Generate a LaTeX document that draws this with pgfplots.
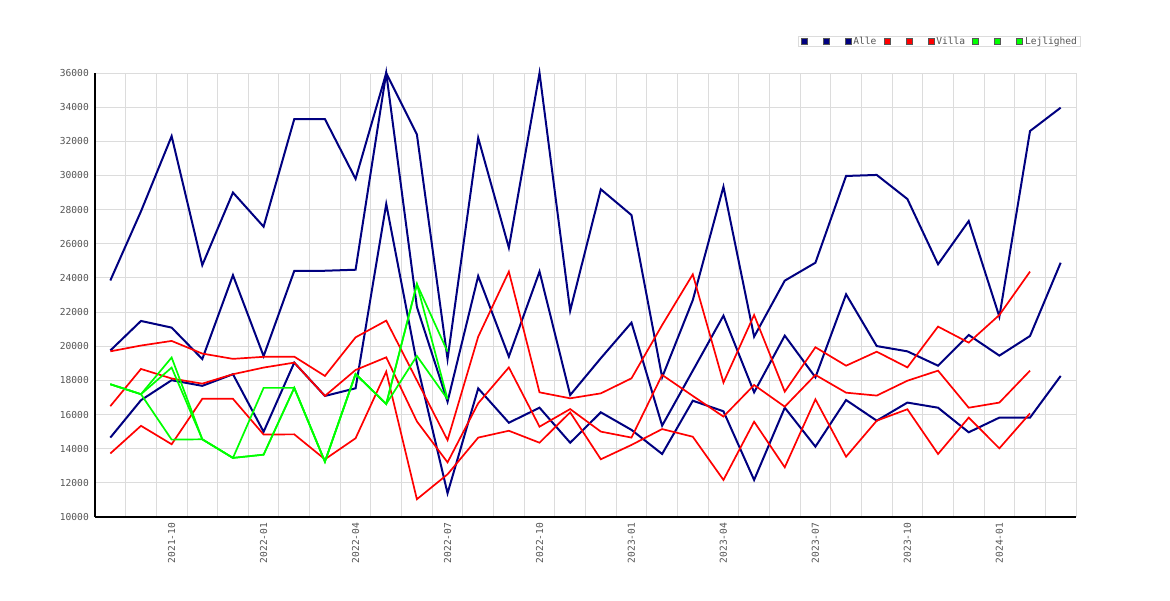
\documentclass[border=0pt]{standalone}
\usepackage{fontspec}
\setmonofont{DejaVu Sans Mono}
\usepackage{pgfplots}
\usepackage{pgfplotstable}
\pgfplotsset{compat=1.18}
\definecolor{navy}{RGB}{0,0,128}
\definecolor{cred}{RGB}{255,0,0}
\definecolor{cgreen}{RGB}{0,255,0}
\definecolor{gridc}{RGB}{220,220,220}
\definecolor{txt}{RGB}{85,85,85}
\pgfplotstableread{
i  B1    B2    B3
0  23850 19750 14650
1  27900 21480 16840
2  32300 21090 18010
3  24750 19250 17680
4  29000 24160 18360
5  27000 19420 14990
6  33300 24410 19040
7  33300 24420 17090
8  29800 24480 17535
9  36000 36000 28330
10 32400 22300 19000
11 19250 16750 11390
12 32200 24110 17530
13 25770 19390 15520
14 36000 24370 16400
15 22080 17140 14350
16 29190 19300 16130
17 27680 21380 15100
18 18180 15350 13690
19 22700 18570 16810
20 29340 21790 16190
21 20560 17300 12170
22 23840 20620 16400
23 24890 18180 14120
24 29970 23040 16850
25 30030 20010 15640
26 28620 19700 16700
27 24800 18860 16400
28 27330 20660 14960
29 21730 19450 15820
30 32600 20600 15820
31 33970 24890 18260
}\alle
\pgfplotstableread{
i  R1    R2    R3
0  19700 16490 13720
1  20040 18670 15340
2  20310 18110 14260
3  19570 17810 16920
4  19260 18360 16920
5  19380 18750 14830
6  19390 19040 14840
7  18260 17090 13380
8  20520 18610 14610
9  21500 19350 18510
10 18000 15600 11040
11 14500 13200 12500
12 20560 16660 14650
13 24370 18760 15050
14 17300 15290 14350
15 16950 16320 16130
16 17240 15000 13380
17 18120 14650 14220
18 21240 18320 15150
19 24210 17090 14700
20 17870 15880 12170
21 21830 17730 15580
22 17340 16460 12910
23 19940 18320 16890
24 18860 17280 13530
25 19680 17110 15640
26 18760 17980 16310
27 21150 18570 13690
28 20210 16400 15820
29 21830 16700 14020
30 24370 18570 16070
}\villa
\pgfplotstableread{
i  G1    G2    G3
0  17775 17775 17775
1  17190 17190 17190
2  19340 18750 14530
3  14550 14550 14550
4  13460 13460 13460
5  17560 13650 13650
6  17560 17560 17560
7  13240 13240 13240
8  18370 18370 18370
9  16620 16620 16620
10 23640 23640 19430
11 19680 16900 16900
}\lejl
\begin{document}
\begin{tikzpicture}
\fill[white] (0,0) rectangle (1170pt,600pt);
\useasboundingbox (0,0) rectangle (1170pt,600pt);
\begin{axis}[
  at={(95pt,83pt)}, anchor=south west,
  width=981pt, height=444pt, scale only axis,
  xmin=-0.5, xmax=31.5, ymin=10000, ymax=36000,
  clip=false,
  scaled y ticks=false,
  axis x line=bottom, axis y line=left,
  axis line style={-, black, line width=1.2pt},
  xtick={2,5,...,29},
  xticklabels={2021-10,2022-01,2022-04,2022-07,2022-10,2023-01,2023-04,2023-07,2023-10,2024-01},
  minor xtick={0.5,1.5,...,31.5},
  ytick={10000,12000,...,36000},
  yticklabels={10000,12000,14000,16000,18000,20000,22000,24000,26000,28000,30000,32000,34000,36000},
  xminorgrids=true, xmajorgrids=false, ymajorgrids=true,
  grid style={gridc, line width=0.9pt},
  minor grid style={gridc, line width=0.9pt},
  major tick length=0pt, minor tick length=0pt,
  tick label style={font=\ttfamily\fontsize{9.6}{11}\selectfont, text=txt, inner sep=0pt},
  xticklabel style={rotate=90, anchor=east},
  yticklabel style={anchor=east},
  xticklabel shift=5.5pt, yticklabel shift=6pt,
  legend columns=9,
  legend cell align=left,
  legend style={at={(0.7163,1.084)}, anchor=north west, draw=gridc, line width=0.8pt,
    inner xsep=2.5pt, inner ysep=0.3pt,
    font=\ttfamily\fontsize{9.6}{11}\selectfont, text=txt,
    nodes={inner sep=0.5pt},
    /tikz/every odd column/.append style={column sep=1.5pt},
    /tikz/every even column/.append style={column sep=6.5pt}},
]
\pgfplotsset{
  navyimg/.style={legend image code/.code={\draw[fill=navy, draw=txt, line width=0.6pt] (0pt,-3pt) rectangle (6pt,3pt);}},
  redimg/.style={legend image code/.code={\draw[fill=cred, draw=txt, line width=0.6pt] (0pt,-3pt) rectangle (6pt,3pt);}},
  greenimg/.style={legend image code/.code={\draw[fill=cgreen, draw=txt, line width=0.6pt] (0pt,-3pt) rectangle (6pt,3pt);}},
}
\addplot[navy, line width=2pt, navyimg] table[x=i, y=B1] {\alle};
\addlegendentry{\hspace*{6.5pt}}
\addplot[navy, line width=2pt, navyimg] table[x=i, y=B2] {\alle};
\addlegendentry{\hspace*{6.5pt}}
\addplot[navy, line width=2pt, navyimg] table[x=i, y=B3] {\alle};
\addlegendentry{Alle}
\addplot[cred, line width=1.7pt, redimg] table[x=i, y=R1] {\villa};
\addlegendentry{\hspace*{6.5pt}}
\addplot[cred, line width=1.7pt, redimg] table[x=i, y=R2] {\villa};
\addlegendentry{\hspace*{6.5pt}}
\addplot[cred, line width=1.7pt, redimg] table[x=i, y=R3] {\villa};
\addlegendentry{Villa}
\addplot[cgreen, line width=1.7pt, greenimg] table[x=i, y=G1] {\lejl};
\addlegendentry{\hspace*{6.5pt}}
\addplot[cgreen, line width=1.7pt, greenimg] table[x=i, y=G2] {\lejl};
\addlegendentry{\hspace*{6.5pt}}
\addplot[cgreen, line width=1.7pt, greenimg] table[x=i, y=G3] {\lejl};
\addlegendentry{Lejlighed}
\end{axis}
\end{tikzpicture}
\end{document}
